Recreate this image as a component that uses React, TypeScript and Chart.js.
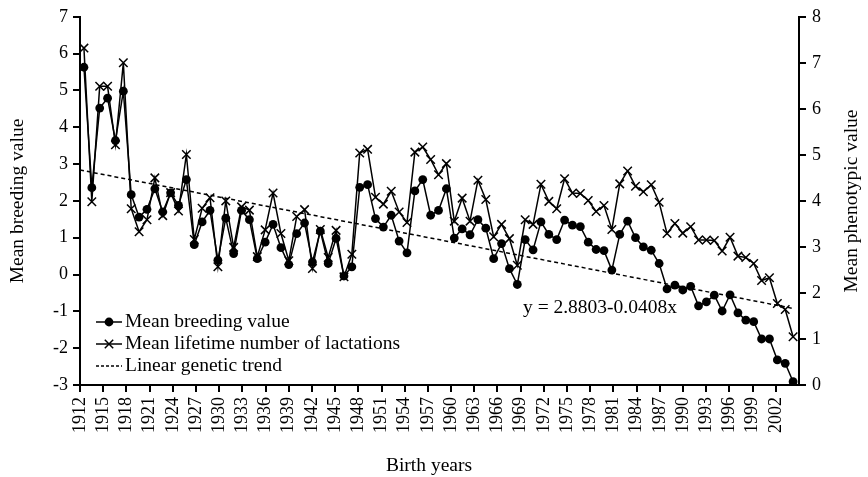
import React, { useEffect, useRef } from 'react';
import { Chart, registerables } from 'chart.js';

Chart.register(...registerables);

const years = [
  1912, 1913, 1914, 1915, 1916, 1917, 1918, 1919, 1920, 1921,
  1922, 1923, 1924, 1925, 1926, 1927, 1928, 1929, 1930, 1931,
  1932, 1933, 1934, 1935, 1936, 1937, 1938, 1939, 1940, 1941,
  1942, 1943, 1944, 1945, 1946, 1947, 1948, 1949, 1950, 1951,
  1952, 1953, 1954, 1955, 1956, 1957, 1958, 1959, 1960, 1961,
  1962, 1963, 1964, 1965, 1966, 1967, 1968, 1969, 1970, 1971,
  1972, 1973, 1974, 1975, 1976, 1977, 1978, 1979, 1980, 1981,
  1982, 1983, 1984, 1985, 1986, 1987, 1988, 1989, 1990, 1991,
  1992, 1993, 1994, 1995, 1996, 1997, 1998, 1999, 2000, 2001,
  2002,
];

const breedingValues = [
  5.63, 2.36, 4.52, 4.79, 3.64, 4.98, 2.17, 1.56, 1.77, 2.33,
  1.70, 2.22, 1.88, 2.58, 0.81, 1.43, 1.74, 0.39, 1.53, 0.57,
  1.74, 1.49, 0.43, 0.88, 1.36, 0.73, 0.27, 1.11, 1.40, 0.34,
  1.18, 0.30, 0.98, -0.04, 0.21, 2.37, 2.44, 1.52, 1.29, 1.61,
  0.91, 0.59, 2.27, 2.58, 1.61, 1.74, 2.33, 0.99, 1.24, 1.08,
  1.49, 1.26, 0.43, 0.84, 0.16, -0.27, 0.95, 0.67, 1.43, 1.09,
  0.95, 1.48, 1.34, 1.30, 0.88, 0.68, 0.65, 0.12, 1.09, 1.45,
  1.00, 0.75, 0.66, 0.30, -0.39, -0.29, -0.42, -0.32, -0.85, -0.74,
  -0.56, -0.99, -0.55, -1.04, -1.24, -1.28, -1.75, -1.75, -2.32, -2.41,
  -2.91,
];

const lactations = [
  7.32, 3.98, 6.49, 6.49, 5.22, 7.00, 3.83, 3.33, 3.59, 4.50,
  3.68, 4.18, 3.78, 5.01, 3.16, 3.84, 4.07, 2.57, 4.00, 2.99,
  3.87, 3.80, 2.79, 3.37, 4.17, 3.29, 2.70, 3.66, 3.81, 2.53,
  3.38, 2.77, 3.36, 2.35, 2.84, 5.04, 5.12, 4.08, 3.93, 4.21,
  3.76, 3.53, 5.06, 5.17, 4.90, 4.57, 4.81, 3.56, 4.06, 3.56,
  4.45, 4.03, 3.22, 3.49, 3.18, 2.60, 3.59, 3.49, 4.36, 3.99,
  3.83, 4.48, 4.17, 4.16, 4.01, 3.77, 3.90, 3.38, 4.37, 4.65,
  4.32, 4.20, 4.35, 3.97, 3.29, 3.51, 3.30, 3.44, 3.15, 3.15,
  3.14, 2.91, 3.21, 2.80, 2.77, 2.64, 2.27, 2.33, 1.77, 1.64,
  1.05,
];

const tickYears = [
  1912, 1915, 1918, 1921, 1924, 1927, 1930, 1933, 1936, 1939,
  1942, 1945, 1948, 1951, 1954, 1957, 1960, 1963, 1966, 1969,
  1972, 1975, 1978, 1981, 1984, 1987, 1990, 1993, 1996, 1999,
  2002,
];

const trendYears = [1911.5, 2002];
const trendValues = [2.84, -0.92];

const seriesNames = [
  'Mean breeding value',
  'Mean lifetime number of lactations',
  'Linear genetic trend',
];
const equationText = 'y = 2.8803-0.0408x';
const xTitle = 'Birth years';
const yLeftTitle = 'Mean breeding value';
const yRightTitle = 'Mean phenotypic value';

const FONT_FAMILY = '"Liberation Serif", "Times New Roman", serif';

const overlayPlugin = {
  id: 'overlayText',
  afterDraw(chart: any) {
    const ctx = chart.ctx as CanvasRenderingContext2D;
    ctx.save();
    ctx.fillStyle = '#000';
    ctx.strokeStyle = '#000';
    ctx.font = `19.5px ${FONT_FAMILY}`;
    ctx.textBaseline = 'middle';

    // axis titles
    ctx.save();
    ctx.translate(18, 201);
    ctx.rotate(-Math.PI / 2);
    ctx.textAlign = 'center';
    ctx.fillText(yLeftTitle, 0, 0);
    ctx.restore();

    ctx.save();
    ctx.translate(852, 201);
    ctx.rotate(-Math.PI / 2);
    ctx.textAlign = 'center';
    ctx.fillText(yRightTitle, 0, 0);
    ctx.restore();

    ctx.textAlign = 'center';
    ctx.fillText(xTitle, 429, 466);

    // equation
    ctx.textAlign = 'left';
    ctx.fillText(equationText, 523, 308);

    // legend
    const lx0 = 96;
    const lx1 = 122;
    const mx = 109;
    const tx = 125;
    const rows = [322, 344, 366];
    ctx.lineWidth = 1.5;

    // row 1: line + dot
    ctx.beginPath();
    ctx.moveTo(lx0, rows[0]);
    ctx.lineTo(lx1, rows[0]);
    ctx.stroke();
    ctx.beginPath();
    ctx.arc(mx, rows[0], 4.4, 0, Math.PI * 2);
    ctx.fill();
    ctx.fillText(seriesNames[0], tx, rows[0]);

    // row 2: line + cross
    ctx.beginPath();
    ctx.moveTo(lx0, rows[1]);
    ctx.lineTo(lx1, rows[1]);
    ctx.stroke();
    const c = 4.2;
    ctx.beginPath();
    ctx.moveTo(mx - c, rows[1] - c);
    ctx.lineTo(mx + c, rows[1] + c);
    ctx.moveTo(mx - c, rows[1] + c);
    ctx.lineTo(mx + c, rows[1] - c);
    ctx.stroke();
    ctx.fillText(seriesNames[1], tx, rows[1]);

    // row 3: dashed
    ctx.setLineDash([3, 2]);
    ctx.beginPath();
    ctx.moveTo(lx0, rows[2]);
    ctx.lineTo(lx1, rows[2]);
    ctx.stroke();
    ctx.setLineDash([]);
    ctx.fillText(seriesNames[2], tx, rows[2]);

    ctx.restore();
  },
};

export default function App() {
  const canvasRef = useRef<HTMLCanvasElement | null>(null);

  useEffect(() => {
    const canvas = canvasRef.current;
    if (!canvas) return;

    const tickFont = { family: FONT_FAMILY, size: 18 };

    const chart = new Chart(canvas, {
      type: 'line',
      data: {
        datasets: [
          {
            label: seriesNames[0],
            data: years.map((yr, i) => ({ x: yr, y: breedingValues[i] })),
            xAxisID: 'x',
            yAxisID: 'y',
            borderColor: '#000',
            borderWidth: 1.5,
            pointStyle: 'circle',
            pointRadius: 4.4,
            pointBackgroundColor: '#000',
            pointBorderColor: '#000',
            pointBorderWidth: 0,
            tension: 0,
            clip: false as any,
          },
          {
            label: seriesNames[1],
            data: years.map((yr, i) => ({ x: yr, y: lactations[i] })),
            xAxisID: 'x',
            yAxisID: 'y2',
            borderColor: '#000',
            borderWidth: 1.5,
            pointStyle: 'crossRot',
            pointRadius: 6,
            pointBorderColor: '#000',
            pointBackgroundColor: '#000',
            pointBorderWidth: 1.5,
            tension: 0,
            clip: false as any,
          },
          {
            label: seriesNames[2],
            data: trendYears.map((yr, i) => ({ x: yr, y: trendValues[i] })),
            xAxisID: 'x',
            yAxisID: 'y',
            borderColor: '#000',
            borderWidth: 1.5,
            borderDash: [4, 3],
            pointRadius: 0,
            tension: 0,
          },
        ],
      },
      options: {
        animation: false,
        responsive: false,
        maintainAspectRatio: false,
        layout: { padding: { top: 16, left: 0, right: 0, bottom: 0 } },
        plugins: {
          legend: { display: false },
          tooltip: { enabled: false },
        },
        scales: {
          x: {
            type: 'linear',
            display: false,
            min: 1911.5,
            max: 2002.75,
          },
          xt: {
            type: 'linear',
            position: 'bottom',
            min: 1912,
            max: 2005,
            afterBuildTicks: (s: any) => {
              s.ticks = tickYears.map((v) => ({ value: v }));
            },
            afterFit: (s: any) => {
              s.height = 92;
            },
            ticks: {
              autoSkip: false,
              maxRotation: 90,
              minRotation: 90,
              padding: 5,
              color: '#000',
              font: tickFont,
              callback: (v: any) => String(v),
            },
            grid: {
              drawOnChartArea: false,
              drawTicks: true,
              tickLength: 7,
              color: '#000',
              lineWidth: 2,
            },
            border: { display: true, color: '#000', width: 2 },
          },
          y: {
            type: 'linear',
            position: 'left',
            min: -3,
            max: 7,
            afterFit: (s: any) => {
              s.width = 80;
            },
            ticks: {
              stepSize: 1,
              padding: 5,
              color: '#000',
              font: tickFont,
              callback: (v: any) => String(v),
            },
            grid: {
              drawOnChartArea: false,
              drawTicks: true,
              tickLength: 7,
              color: '#000',
              lineWidth: 2,
            },
            border: { display: true, color: '#000', width: 2 },
          },
          y2: {
            type: 'linear',
            position: 'right',
            min: 0,
            max: 8,
            afterFit: (s: any) => {
              s.width = 69;
            },
            ticks: {
              stepSize: 1,
              padding: 6,
              color: '#000',
              font: tickFont,
              callback: (v: any) => String(v),
            },
            grid: {
              drawOnChartArea: false,
              drawTicks: true,
              tickLength: 7,
              color: '#000',
              lineWidth: 2,
            },
            border: { display: true, color: '#000', width: 2 },
          },
        },
      },
      plugins: [overlayPlugin],
    } as any);

    return () => {
      chart.destroy();
    };
  }, []);

  return (
    <div style={{ position: 'absolute', left: 0, top: 0, width: 868, height: 477, background: '#fff' }}>
      <canvas ref={canvasRef} width={868} height={477} style={{ display: 'block' }} />
    </div>
  );
}
